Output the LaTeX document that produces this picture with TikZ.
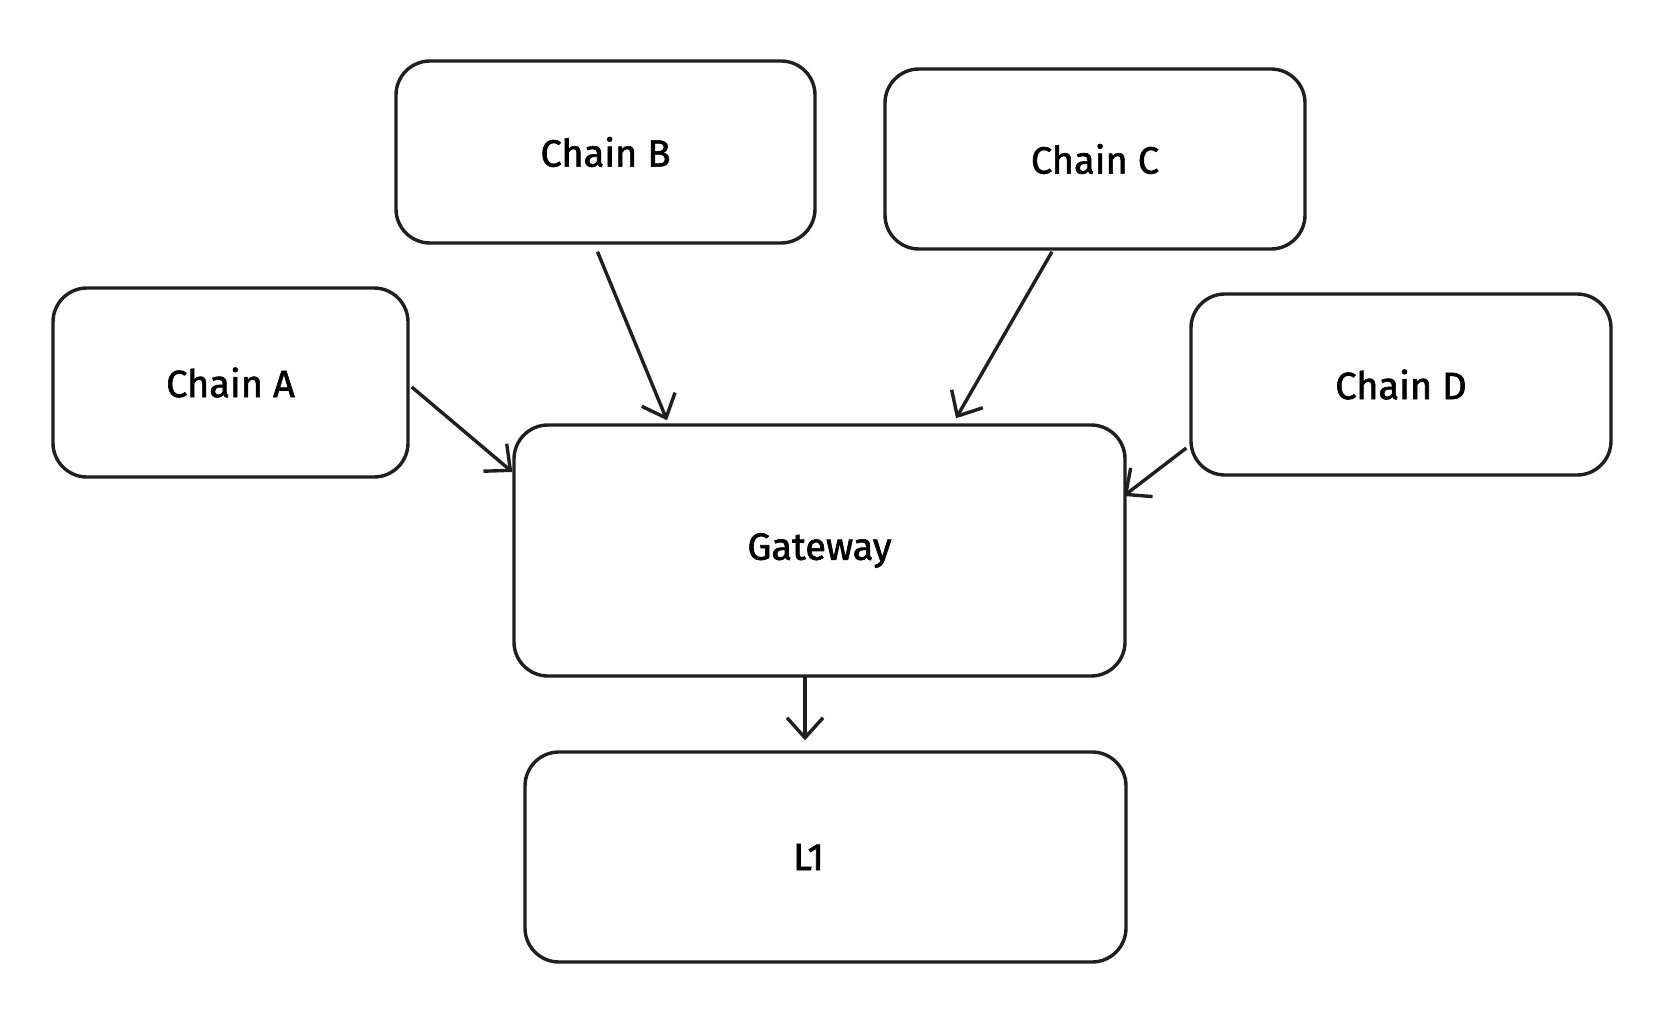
\documentclass[tikz,border=0pt]{standalone}
\usepackage{fontspec}
\setmainfont{Fira Sans}[BoldFont={Fira Sans},BoldFeatures={FakeBold=1.6}]
\usetikzlibrary{arrows.meta}
\begin{document}
\begin{tikzpicture}[x=1pt,y=-1pt,
  box/.style={draw=black!88,line width=3.4pt,rounded corners=34pt,inner sep=0pt,font=\fontsize{38}{44}\selectfont\bfseries},
  arr/.style={draw=black!88,line width=3.4pt,-{Straight Barb[length=20pt,width=36pt,line width=3.4pt]}}]
\useasboundingbox (0,0) rectangle (1656,1024);
\fill[white] (0,0) rectangle (1656,1024);
\node[box,minimum width=419pt,minimum height=182pt] (B) at (605.5,152) {Chain B};
\node[box,minimum width=420pt,minimum height=180pt] (C) at (1095,159) {Chain C};
\node[box,minimum width=355pt,minimum height=189pt] (A) at (230.5,382.5) {Chain A};
\node[box,minimum width=420pt,minimum height=181pt] (D) at (1401,384.5) {Chain D};
\node[box,minimum width=611pt,minimum height=251pt] (G) at (819.5,550.5) {Gateway};
\node[box,minimum width=601pt,minimum height=210pt] (L) at (825.5,857) {L1\hspace*{34pt}};
\draw[arr] ([xshift=-8pt,yshift=-7pt]B.south) -- ([xshift=-152.5pt,yshift=3pt]G.north);
\draw[arr] ([xshift=-43pt,yshift=-1pt]C.south) -- ([xshift=136.5pt,yshift=5pt]G.north);
\draw[arr] ([xshift=2pt,yshift=-4.5pt]A.east) -- ([yshift=78.5pt]G.west);
\draw[arr] ([xshift=-3pt,yshift=-63.5pt]D.west) -- ([xshift=-3pt,yshift=54.5pt]G.east);
\draw[arr] ([xshift=-14.5pt,yshift=3pt]G.south) -- ([xshift=-20.5pt,yshift=10pt]L.north);
\end{tikzpicture}
\end{document}
